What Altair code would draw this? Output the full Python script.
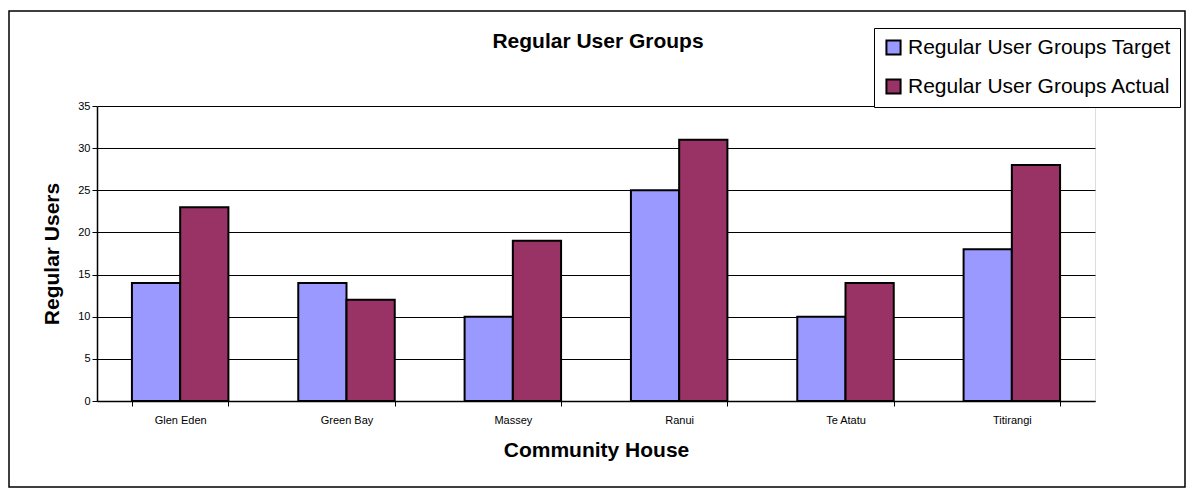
import altair as alt
import pandas as pd

houses = ["Glen Eden", "Green Bay", "Massey", "Ranui", "Te Atatu", "Titirangi"]
target = [14, 14, 10, 25, 10, 18]
actual = [23, 12, 19, 31, 14, 28]
series = ["Regular User Groups Target", "Regular User Groups Actual"]
colors = ["#9999FF", "#993366"]
chart_title = "Regular User Groups"

rows = []
for h, t, a in zip(houses, target, actual):
    rows.append({"house": h, "series": series[0], "value": t})
    rows.append({"house": h, "series": series[1], "value": a})
df = pd.DataFrame(rows)

FONT = "Liberation Sans"

bars = alt.Chart(df).mark_bar(stroke="black", strokeWidth=2).encode(
    x=alt.X("house:N", sort=houses,
            scale=alt.Scale(paddingInner=0.42, paddingOuter=0.21),
            axis=alt.Axis(title="Community House", labelAngle=0, labelFontSize=11,
                          labelFont=FONT, labelColor="black", labelPadding=8,
                          titleFont=FONT, titleFontSize=21, titleFontWeight="bold",
                          titleColor="black", titlePadding=14,
                          tickBand="extent", tickSize=5, tickColor="black",
                          domainColor="black", domainWidth=1.5, grid=False)),
    xOffset=alt.XOffset("series:N", sort=series),
    y=alt.Y("value:Q", scale=alt.Scale(domain=[0, 35]),
            axis=alt.Axis(title="Regular Users", values=list(range(0, 36, 5)),
                          labelFontSize=11, labelFont=FONT, labelColor="black",
                          titleFont=FONT, titleFontSize=21, titleFontWeight="bold",
                          titleColor="black", titlePadding=15,
                          tickSize=5, tickColor="black", domainColor="black",
                          domainWidth=1.5, grid=True, gridColor="black",
                          gridWidth=1)),
    color=alt.Color("series:N", sort=series,
                    scale=alt.Scale(domain=series, range=colors),
                    legend=alt.Legend(title=None, orient="none", legendX=777,
                                      legendY=-78, direction="vertical",
                                      labelFont=FONT, labelFontSize=21,
                                      labelColor="black", labelLimit=0,
                                      symbolType="square",
                                      symbolSize=200, symbolStrokeColor="black",
                                      symbolStrokeWidth=2, symbolOpacity=1,
                                      rowPadding=16, padding=9,
                                      strokeColor="black", fillColor="white",
                                      labelOffset=4)),
)

border = alt.Chart(pd.DataFrame({"a": [0]})).mark_rect(
    fill=None, stroke="black", strokeWidth=1.5
).encode(x=alt.value(-88), x2=alt.value(1088), y=alt.value(-95), y2=alt.value(381))

title = alt.Chart(pd.DataFrame({"t": [chart_title]})).mark_text(
    font=FONT, fontSize=21, fontWeight="bold", color="black",
    align="center", baseline="middle"
).encode(text="t:N", x=alt.value(501), y=alt.value(-64))

chart = alt.layer(border, bars, title).properties(
    width=998, height=295,
    autosize=alt.AutoSizeParams(type="none"),
    padding={"left": 97, "top": 106, "right": 97, "bottom": 93},
).configure_view(stroke="#808080", strokeWidth=2).configure(background="white")

chart.save("out.html", embed_options={"renderer": "svg", "actions": False})
